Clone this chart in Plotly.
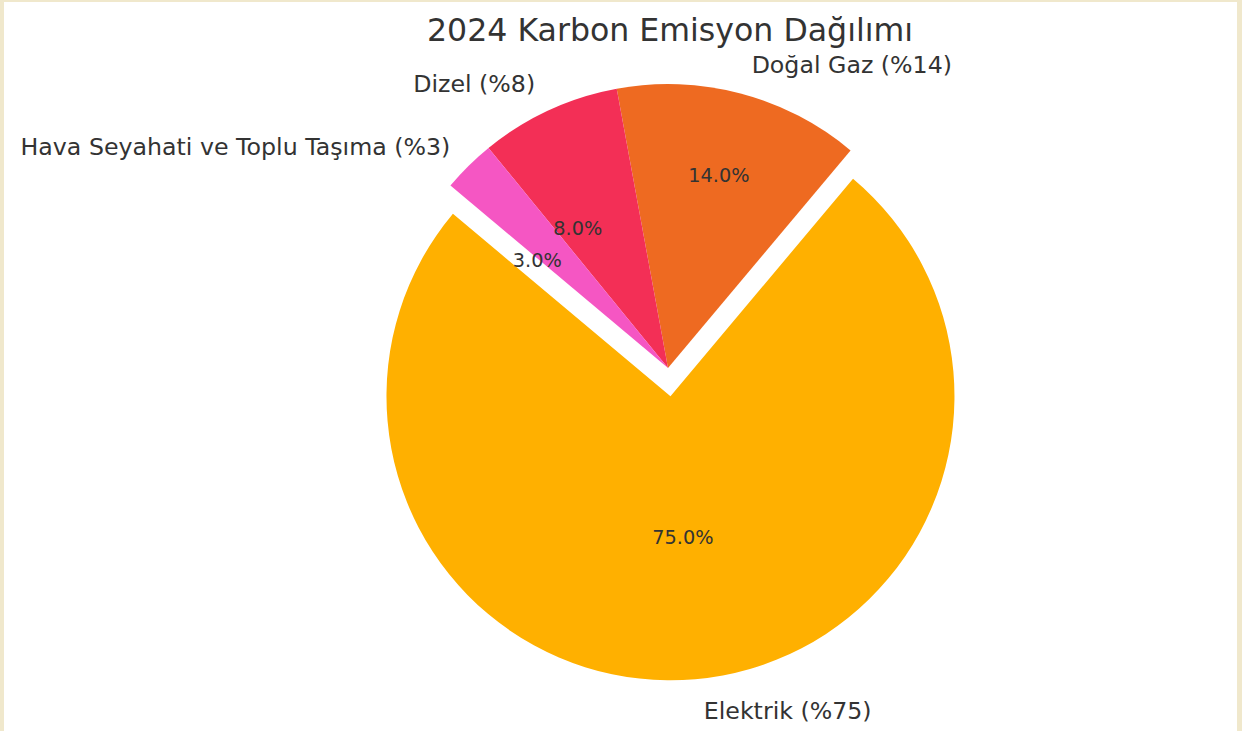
import plotly.graph_objects as go

labels = ["Elektrik", "Doğal Gaz", "Dizel", "Hava Seyahati ve Toplu Taşıma"]
values = [75, 14, 8, 3]
colors = ["#FFB000", "#EE6A21", "#F32F56", "#F556C3"]
pulls = [0.1, 0, 0, 0]
title_text = "2024 Karbon Emisyon Dağılımı"

outside_text = [f"{l} (%{v})" for l, v in zip(labels, values)]

W, H = 1242, 731
cx, cy = 668, 368
r = 284        # pie radius (px)
r_lab = 300    # radius used to place the category labels
r_pct = 143    # radius used to place percentages of the thin slices

def domain(radius, pull):
    half = radius * (1 + pull)
    return dict(x=[(cx - half) / W, (cx + half) / W],
                y=[1 - (cy + half) / H, 1 - (cy - half) / H])

font_family = "DejaVu Sans"
txt_color = "#333333"
clear = ["rgba(0,0,0,0)"] * len(values)
common = dict(labels=labels, values=values, sort=False,
              direction="counterclockwise", rotation=40, showlegend=False)

fig = go.Figure()
# coloured pie, percentages of the two big slices inside
fig.add_trace(go.Pie(
    **common, pull=pulls,
    marker=dict(colors=colors, line=dict(width=0)),
    texttemplate="%{percent:.1%}",
    textposition=["inside", "inside", "none", "none"],
    insidetextorientation="horizontal",
    insidetextfont=dict(family=font_family, size=19.3, color=txt_color),
    domain=domain(r, max(pulls)), hoverinfo="label+percent",
))
# percentages of the thin slices (transparent helper pie)
fig.add_trace(go.Pie(
    **common,
    marker=dict(colors=clear, line=dict(width=0)),
    texttemplate="%{percent:.1%}",
    textposition=["none", "none", "outside", "outside"],
    outsidetextfont=dict(family=font_family, size=19.3, color=txt_color),
    domain=domain(r_pct, 0), hoverinfo="skip",
))
# category labels outside (transparent helper pie)
fig.add_trace(go.Pie(
    **common, pull=pulls,
    marker=dict(colors=clear, line=dict(width=0)),
    text=outside_text, textinfo="text", textposition="outside",
    outsidetextfont=dict(family=font_family, size=23.7, color=txt_color),
    domain=domain(r_lab, max(pulls)), hoverinfo="skip",
))

fig.update_layout(
    width=W, height=H,
    margin=dict(l=0, r=0, t=0, b=0, pad=0, autoexpand=False),
    paper_bgcolor="#F0E8CC",
    title=dict(text=title_text, x=670 / W, xanchor="center", y=1 - 30 / H,
               yanchor="middle", yref="container",
               font=dict(family=font_family, size=31.6, color=txt_color)),
    shapes=[dict(type="rect", xref="paper", yref="paper",
                 x0=4 / W, x1=1237 / W, y0=0, y1=1 - 2 / H,
                 fillcolor="white", line=dict(width=0), layer="below")],
)

fig.write_html("out.html", config={"displayModeBar": False},
               post_script="document.body.style.margin='0';document.body.style.overflow='hidden';")
